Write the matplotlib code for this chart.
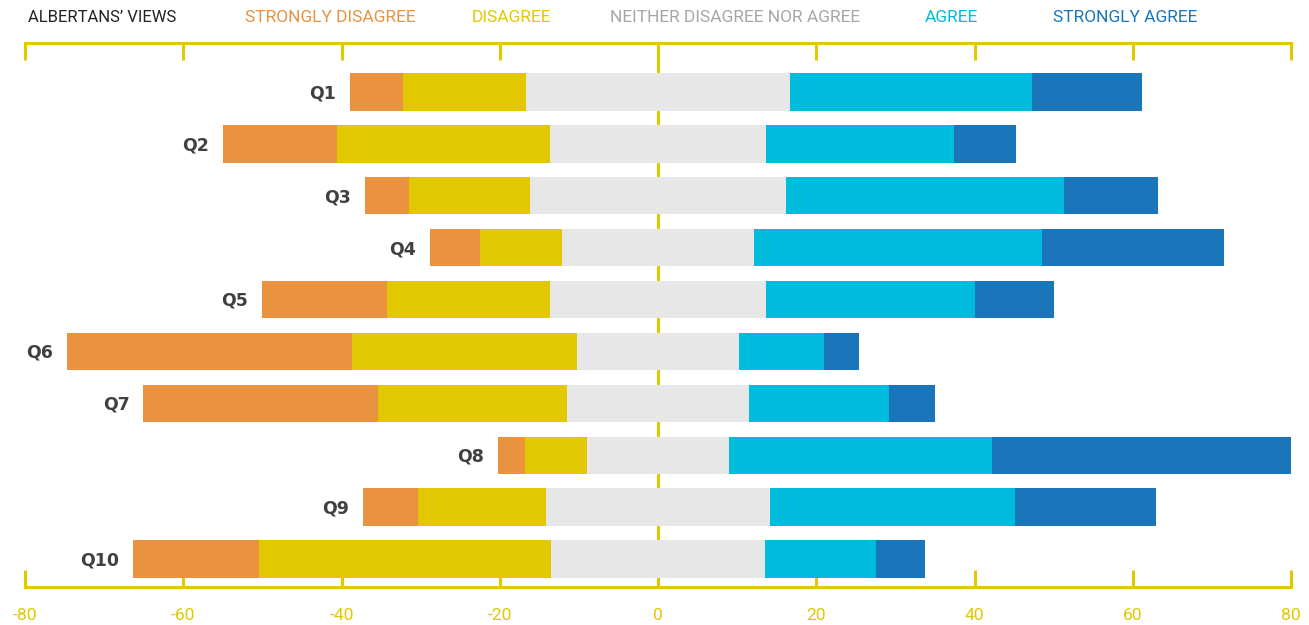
import numpy as np
import matplotlib
matplotlib.use("Agg")
import matplotlib.pyplot as plt

questions = ["Q1", "Q2", "Q3", "Q4", "Q5", "Q6", "Q7", "Q8", "Q9", "Q10"]
strongly_disagree = [6.7, 14.4, 5.6, 6.3, 15.9, 36.0, 29.6, 3.4, 6.9, 15.9]
disagree = [15.6, 26.9, 15.3, 10.4, 20.6, 28.4, 24.0, 7.9, 16.2, 36.9]
neither = [33.3, 27.4, 32.3, 24.2, 27.2, 20.6, 22.9, 17.9, 28.3, 27.0]
agree = [30.6, 23.7, 35.2, 36.4, 26.4, 10.7, 17.7, 33.2, 31.0, 14.0]
strongly_agree = [13.9, 7.8, 11.8, 23.0, 10.1, 4.4, 5.9, 37.8, 17.8, 6.3]
categories = ["STRONGLY DISAGREE", "DISAGREE", "NEITHER DISAGREE NOR AGREE",
              "AGREE", "STRONGLY AGREE"]
ticks = [-80, -60, -40, -20, 0, 20, 40, 60, 80]

YEL = "#E2C800"
bar_cols = ["#E9923F", "#E2C800", "#E6E7E6", "#00BCDC", "#1B75BB"]
txt_cols = ["#E9923F", "#E2C800", "#A6A6A6", "#00BCDC", "#1B75BB"]

plt.rcParams["font.family"] = ["Roboto", "DejaVu Sans"]

fig = plt.figure(figsize=(13.09, 6.25), dpi=100)
ax = fig.add_axes([25 / 1309, 1 - 587 / 625, (1291 - 25) / 1309, (587 - 43) / 625])

sd = np.array(strongly_disagree); d = np.array(disagree); n = np.array(neither)
a = np.array(agree); sa = np.array(strongly_agree)
y = np.arange(len(questions))
h = 0.72

# neutral is centred on zero
n_left = -n / 2
d_left = n_left - d
sd_left = d_left - sd
a_left = n / 2
sa_left = a_left + a

ax.axvline(0, color=YEL, lw=2.2, zorder=0)
ax.barh(y, sd, left=sd_left, height=h, color=bar_cols[0], zorder=2)
ax.barh(y, d, left=d_left, height=h, color=bar_cols[1], zorder=2)
ax.barh(y, n, left=n_left, height=h, color=bar_cols[2], zorder=2)
ax.barh(y, a, left=a_left, height=h, color=bar_cols[3], zorder=2)
ax.barh(y, sa, left=sa_left, height=h, color=bar_cols[4], zorder=2)

for yi, q, lft in zip(y, questions, sd_left):
    ax.annotate(q, (lft, yi), xytext=(-10, -1), textcoords="offset points",
                ha="right", va="center", fontsize=12.5, fontweight="bold",
                color="#404040", family=["DejaVu Sans"])

ax.set_xlim(-80, 80)
ax.set_ylim(9.54, -0.944)
ax.set_yticks([])
ax.set_xticks(ticks)
ax.set_xticklabels([str(t) for t in ticks])
for s in ("left", "right"):
    ax.spines[s].set_visible(False)
for s in ("top", "bottom"):
    ax.spines[s].set_color(YEL)
    ax.spines[s].set_linewidth(2.2)
ax.tick_params(axis="x", which="both", direction="in", length=12, width=2.2,
               color=YEL, labelcolor=YEL, labelsize=12.5, top=True, pad=15)
ax.set_facecolor("none")

# header legend
fig.text(28 / 1309, 1 - 18 / 625, "ALBERTANS\u2019 VIEWS", color="#222222",
         fontsize=12, va="center", ha="left")
xs = [245, 472, 610, 925, 1053]
for x, c, tc in zip(xs, categories, txt_cols):
    fig.text(x / 1309, 1 - 18 / 625, c, color=tc, fontsize=12.5, va="center", ha="left")

fig.savefig("out.png", dpi=100)
